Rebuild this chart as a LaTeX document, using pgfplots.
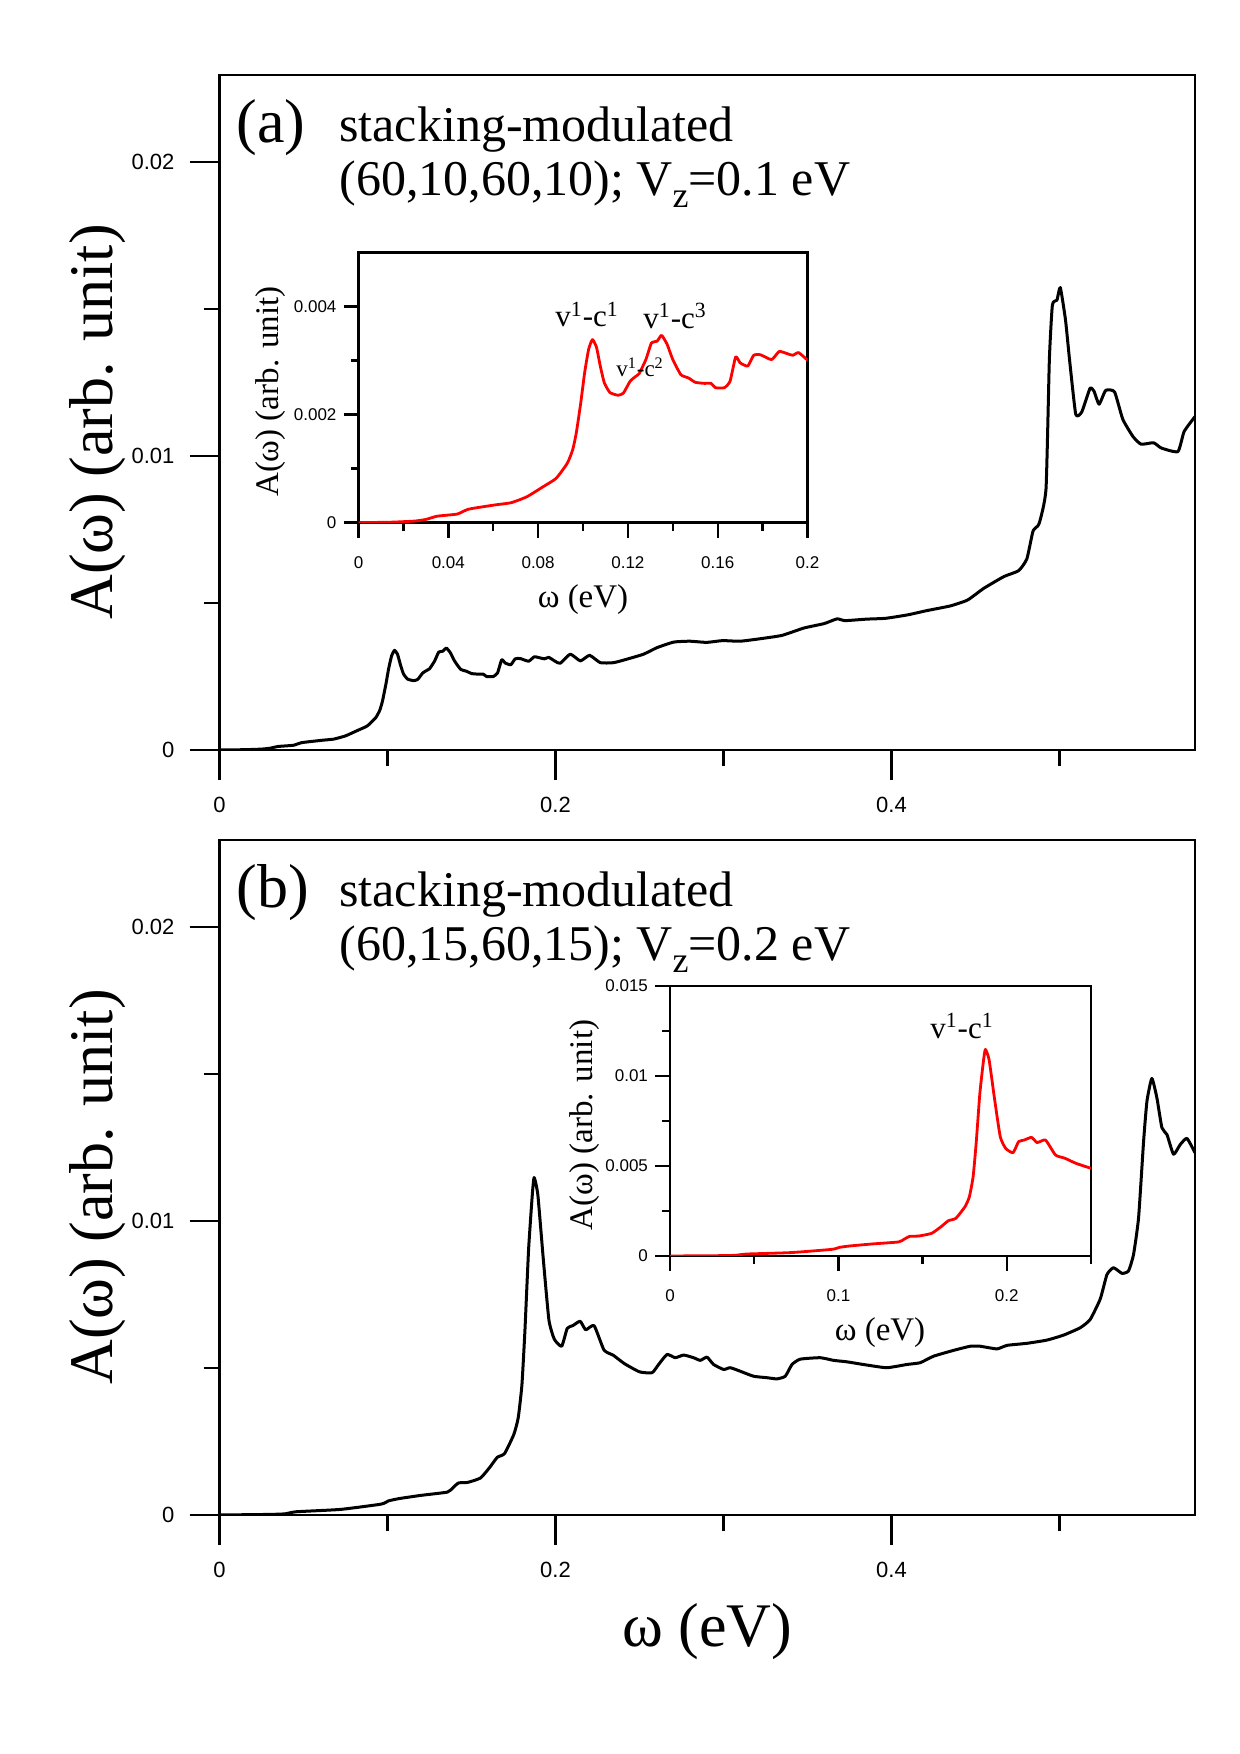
\documentclass[border=0pt]{standalone}
\usepackage{pgfplots}
\pgfplotsset{compat=1.18}
\usepackage{pgfplotstable}
\usepackage{fontspec}
\setmainfont{Liberation Serif}
\newfontfamily\arial{Liberation Sans}

% spectral function, V_z = 0.1 eV
\pgfplotstableread{
w A
0 0
0.015 0.00001
0.025 0.00003
0.030 0.00006
0.035 0.00012
0.044 0.00016
0.049 0.00025
0.061 0.00033
0.068 0.00037
0.075 0.00048
0.082 0.00066
0.088 0.00082
0.093 0.0011
0.0954 0.00135
0.097 0.00166
0.099 0.00222
0.1007 0.00277
0.1025 0.00321
0.1042 0.00339
0.106 0.00325
0.1077 0.0029
0.1095 0.00259
0.112 0.00241
0.1156 0.00236
0.118 0.0024
0.121 0.00262
0.1235 0.00271
0.125 0.00276
0.128 0.00302
0.1305 0.00333
0.133 0.00336
0.135 0.00347
0.1375 0.0033
0.140 0.00302
0.1436 0.00274
0.147 0.00268
0.150 0.0026
0.154 0.00258
0.157 0.00258
0.159 0.0025
0.163 0.0025
0.1655 0.00262
0.168 0.00307
0.170 0.00296
0.1734 0.0029
0.176 0.0031
0.179 0.00311
0.184 0.00302
0.1874 0.00317
0.191 0.00313
0.1935 0.0031
0.196 0.00315
0.200 0.00301
0.2029 0.00295
0.2088 0.00326
0.2148 0.00303
0.2203 0.00322
0.2267 0.00297
0.2346 0.00297
0.2426 0.00309
0.2525 0.00326
0.2604 0.00348
0.2704 0.00367
0.28 0.0037
0.29 0.00366
0.2995 0.00372
0.31 0.0037
0.3239 0.0038
0.335 0.0039
0.348 0.00415
0.36 0.0043
0.3676 0.00446
0.3724 0.0044
0.385 0.00445
0.3967 0.00448
0.41 0.0046
0.421 0.00474
0.435 0.0049
0.4453 0.0051
0.455 0.0055
0.467 0.0059
0.4757 0.0061
0.4806 0.0065
0.4843 0.00745
0.4879 0.0077
0.492 0.00888
0.494 0.01328
0.4958 0.01514
0.4985 0.0153
0.5005 0.01573
0.5036 0.01463
0.506 0.01328
0.5097 0.01142
0.5133 0.0115
0.5182 0.0123
0.5206 0.0122
0.5236 0.01176
0.5275 0.01223
0.5328 0.01218
0.5377 0.01125
0.5438 0.01066
0.5486 0.0104
0.556 0.01045
0.5607 0.01027
0.5705 0.01015
0.5742 0.01083
0.5807 0.01134
}\specA

% spectral function, V_z = 0.2 eV
\pgfplotstableread{
w A
0 0
0.030 0.00002
0.039 0.00004
0.0457 0.00011
0.072 0.00019
0.0962 0.00037
0.1006 0.00048
0.1071 0.00056
0.1203 0.00067
0.1357 0.00078
0.139 0.00093
0.1423 0.00109
0.1478 0.00111
0.1554 0.00126
0.161 0.00163
0.1653 0.00196
0.1697 0.00209
0.1752 0.00274
0.1778 0.0033
0.180 0.00441
0.1818 0.00626
0.184 0.00904
0.1862 0.01089
0.1873 0.01148
0.1895 0.01089
0.1928 0.00867
0.1961 0.00663
0.1993 0.00598
0.2037 0.00574
0.207 0.00635
0.2103 0.00644
0.2147 0.00659
0.218 0.0063
0.223 0.00644
0.2289 0.00561
0.2345 0.00543
0.241 0.00515
0.25 0.00487
0.2575 0.00484
0.2614 0.00512
0.2664 0.00546
0.2713 0.00535
0.2763 0.00544
0.2822 0.00535
0.2862 0.00526
0.2902 0.00537
0.2941 0.00512
0.3001 0.00495
0.304 0.00501
0.31 0.00489
0.3179 0.00472
0.3259 0.00467
0.3318 0.00463
0.3368 0.00472
0.3408 0.00512
0.3457 0.0053
0.3576 0.00535
0.3655 0.00526
0.3735 0.00521
0.3854 0.0051
0.3973 0.00501
0.4092 0.00512
0.4171 0.00518
0.425 0.0054
0.437 0.0056
0.4469 0.00574
0.4528 0.00574
0.4628 0.00565
0.4688 0.00577
0.4807 0.00584
0.4926 0.00595
0.5025 0.00612
0.5124 0.00637
0.5183 0.00665
0.5243 0.00735
0.5283 0.00818
0.5322 0.00841
0.5372 0.00822
0.5411 0.0083
0.5441 0.00886
0.5471 0.01011
0.5501 0.01272
0.5521 0.01408
0.555 0.01485
0.558 0.01419
0.561 0.01317
0.564 0.01294
0.5679 0.01227
0.5719 0.0126
0.5759 0.01281
0.5807 0.01232
}\specB

\pgfplotsset{
  frame/.style={
    scale only axis, anchor=south west,
    tick pos=left, tick align=outside,
    scaled ticks=false, clip=true,
    axis line style={line width=1.4pt},
    tick style={line width=1.4pt, black},
  },
  mainax/.style={
    frame, width=487.75pt, height=337.5pt,
    xmin=0, xmax=0.5807, ymin=0, ymax=0.02296,
    major tick length=15pt, minor tick length=8pt,
    xtick={0,0.2,0.4}, xticklabels={0,0.2,0.4},
    minor xtick={0.1,0.3,0.5},
    ytick={0,0.01,0.02}, yticklabels={0,0.01,0.02},
    minor ytick={0.005,0.015},
    ticklabel style={font=\arial\fontsize{11}{11}\selectfont},
    xticklabel shift=5pt, yticklabel shift=4pt,
  },
  insetax/.style={
    frame, height=135pt,
    axis line style={line width=1.2pt},
    tick style={line width=1.2pt, black},
    major tick length=7.5pt, minor tick length=4pt,
    ticklabel style={font=\arial\fontsize{8.5}{8.5}\selectfont},
    xticklabel shift=6pt, yticklabel shift=0pt,
  },
  curve/.style={line width=1.5pt, line join=round, smooth, tension=0.3},
}

\newcommand{\fbig}{\fontsize{31}{31}\selectfont}
\newcommand{\fmid}{\fontsize{25}{25}\selectfont}
\newcommand{\fins}{\fontsize{16.5}{16.5}\selectfont}

\begin{document}
\begin{tikzpicture}
\path[use as bounding box] (0pt,0pt) rectangle (620pt,877pt);

% ---- panel (a)
\begin{axis}[mainax, at={(109.75pt,502pt)}]
  \addplot[black, curve] table[x=w, y=A] {\specA};
\end{axis}

\begin{axis}[insetax, at={(179.25pt,615.65pt)}, width=224.5pt,
  xmin=0, xmax=0.2, ymin=0, ymax=0.005,
  xtick={0,0.04,0.08,0.12,0.16,0.2},
  xticklabels={0,0.04,0.08,0.12,0.16,0.2},
  minor xtick={0.02,0.06,0.1,0.14,0.18},
  ytick={0,0.002,0.004}, yticklabels={0,0.002,0.004},
  minor ytick={0.001,0.003}]
  \addplot[red, curve, line width=1.4pt, restrict x to domain=0:0.2]
    table[x=w, y=A] {\specA};
  \node[anchor=base, font=\fontsize{15.5}{15.5}\selectfont] at (axis cs:0.1018,0.00363) {v\textsuperscript{1}-c\textsuperscript{1}};
  \node[anchor=base, font=\fontsize{15.5}{15.5}\selectfont] at (axis cs:0.141,0.0036) {v\textsuperscript{1}-c\textsuperscript{3}};
  \node[anchor=base, font=\fontsize{11.5}{11.5}\selectfont] at (axis cs:0.1254,0.0027) {v\textsuperscript{1}-c\textsuperscript{2}};
\end{axis}

% ---- panel (b)
\begin{axis}[mainax, at={(109.75pt,119.5pt)}]
  \addplot[black, curve] table[x=w, y=A] {\specB};
\end{axis}

\begin{axis}[insetax, at={(335pt,249pt)}, width=210.5pt,
  xmin=0, xmax=0.25, ymin=0, ymax=0.015,
  xtick={0,0.1,0.2}, xticklabels={0,0.1,0.2},
  minor xtick={0.05,0.15,0.25},
  ytick={0,0.005,0.01,0.015}, yticklabels={0,0.005,0.01,0.015},
  minor ytick={0.0025,0.0075,0.0125}]
  \addplot[red, curve, line width=1.4pt, restrict x to domain=0:0.25]
    table[x=w, y=A] {\specB};
  \node[anchor=base, font=\fontsize{15.5}{15.5}\selectfont] at (axis cs:0.1734,0.0121) {v\textsuperscript{1}-c\textsuperscript{1}};
\end{axis}

% ---- titles and axis labels
\node[anchor=base west, inner sep=0, font=\fbig] at (118pt,805.5pt) {(a)};
\node[anchor=base west, inner sep=0, font=\fmid] at (169.5pt,806pt) {stacking-modulated};
\node[anchor=base west, inner sep=0, font=\fmid] at (169.5pt,779pt)
  {(60,10,60,10); V\raisebox{-6pt}{\fontsize{18}{18}\selectfont z}=0.1 eV};

\node[anchor=base west, inner sep=0, font=\fbig] at (118pt,423pt) {(b)};
\node[anchor=base west, inner sep=0, font=\fmid] at (169.5pt,423.5pt) {stacking-modulated};
\node[anchor=base west, inner sep=0, font=\fmid] at (169.5pt,396.5pt)
  {(60,15,60,15); V\raisebox{-6pt}{\fontsize{18}{18}\selectfont z}=0.2 eV};

\node[rotate=90, font=\fbig] at (49pt,666pt) {A(ω) (arb. unit)};
\node[rotate=90, font=\fbig] at (49pt,283.5pt) {A(ω) (arb. unit)};
\node[font=\fbig] at (353.5pt,61pt) {ω (eV)};

\node[rotate=90, font=\fins] at (135.5pt,681.2pt) {A(ω) (arb. unit)};
\node[font=\fins] at (291.5pt,577pt) {ω (eV)};
\node[rotate=90, font=\fins] at (292.5pt,314.5pt) {A(ω) (arb. unit)};
\node[font=\fins] at (440pt,210.5pt) {ω (eV)};
\end{tikzpicture}
\end{document}
